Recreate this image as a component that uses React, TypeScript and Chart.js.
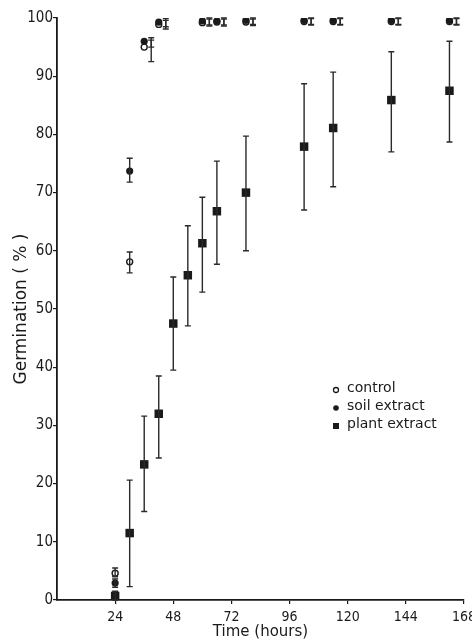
import React, { useEffect, useRef } from "react";
import { Chart, registerables } from "chart.js";

Chart.register(...registerables);

// Plant extract
const plantHours = [24, 30, 36, 42, 48, 54, 60, 66, 78, 102, 114, 138, 162];
const plantMean = [0.7, 11.5, 23.3, 32, 47.5, 55.8, 61.3, 66.8, 70, 77.9, 81.1, 85.9, 87.5];
const plantLow = [0, 2.3, 15.2, 24.4, 39.5, 47.1, 52.9, 57.7, 60, 67, 71, 77, 78.7];
const plantHigh = [1.5, 20.6, 31.6, 38.5, 55.5, 64.3, 69.2, 75.4, 79.7, 88.7, 90.7, 94.2, 96];

// Soil extract
const soilHours = [24, 30, 36, 42, 60, 66, 78, 102, 114, 138, 162];
const soilMean = [2.9, 73.7, 96, 99.3, 99.5, 99.5, 99.6, 99.6, 99.6, 99.6, 99.6];
const soilLow = [2.2, 71.8, 95, 98.5, 98.8, 98.8, 98.9, 98.9, 98.9, 98.9, 98.9];
const soilHigh = [3.6, 75.9, 96.6, 99.9, 100, 100, 100, 100, 100, 100, 100];

// Control
const controlHours = [24, 30, 36, 42, 60, 66, 78, 102, 114, 138, 162];
const controlMean = [4.6, 58.1, 95, 98.9, 99.2, 99.3, 99.3, 99.4, 99.4, 99.4, 99.4];
const controlLow = [4, 56.2, 92.5, 98.1, 98.6, 98.6, 98.7, 98.8, 98.8, 98.8, 98.8];
const controlHigh = [5.5, 59.8, 96.2, 99.6, 99.8, 99.8, 99.8, 99.9, 99.9, 99.9, 99.9];

const xTicks = [24, 48, 72, 96, 120, 144, 168];
const yTicks = [0, 10, 20, 30, 40, 50, 60, 70, 80, 90, 100];

const legendLabels = ["control", "soil extract", "plant extract"];

const FONT = "'DejaVu Sans', 'Noto Sans', sans-serif";
const NARROW = "'Liberation Sans Narrow', 'DejaVu Sans Condensed', 'Arial Narrow', 'DejaVu Sans', sans-serif";
const INK = "#1a1a1a";

const errorBarPlugin = {
  id: "errorBars",
  afterDatasetsDraw(chart: any) {
    const { ctx, scales } = chart;
    const xs = scales.x;
    const ys = scales.y;
    const sets = [
      { h: plantHours, lo: plantLow, hi: plantHigh, m: plantMean, shiftAbove: 999 },
      { h: soilHours, lo: soilLow, hi: soilHigh, m: soilMean, shiftAbove: 90 },
      { h: controlHours, lo: controlLow, hi: controlHigh, m: controlMean, shiftAbove: 90 },
    ];
    ctx.save();
    ctx.strokeStyle = "#2a2a2a";
    ctx.lineWidth = 1.4;
    for (const s of sets) {
      for (let i = 0; i < s.h.length; i++) {
        let px = xs.getPixelForValue(s.h[i]);
        if (s.m[i] > s.shiftAbove) px += 7;
        const y1 = ys.getPixelForValue(s.lo[i]);
        const y2 = ys.getPixelForValue(s.hi[i]);
        ctx.beginPath();
        ctx.moveTo(px, y1);
        ctx.lineTo(px, y2);
        ctx.moveTo(px - 3, y1);
        ctx.lineTo(px + 3, y1);
        ctx.moveTo(px - 3, y2);
        ctx.lineTo(px + 3, y2);
        ctx.stroke();
      }
    }
    ctx.restore();
  },
  afterDraw(chart: any) {
    const { ctx, chartArea } = chart;
    const x0 = chartArea.left + 278;
    const y0 = chartArea.top + 370;
    const gap = 18;
    ctx.save();
    ctx.font = `14px ${FONT}`;
    ctx.fillStyle = INK;
    ctx.textBaseline = "middle";
    legendLabels.forEach((lab, i) => {
      const y = y0 + i * gap;
      ctx.fillText(lab, x0 + 12, y);
      ctx.beginPath();
      if (i === 0) {
        ctx.strokeStyle = INK;
        ctx.lineWidth = 1.3;
        ctx.arc(x0 + 1, y + 2, 2.5, 0, Math.PI * 2);
        ctx.stroke();
      } else if (i === 1) {
        ctx.arc(x0 + 1, y + 2, 2.8, 0, Math.PI * 2);
        ctx.fill();
      } else {
        ctx.fillRect(x0 - 2, y - 1, 6, 6);
      }
    });
    ctx.restore();
  },
};

export default function App() {
  const ref = useRef<HTMLCanvasElement | null>(null);
  useEffect(() => {
    if (!ref.current) return;
    const chart = new Chart(ref.current, {
      type: "scatter",
      data: {
        datasets: [
          {
            label: "plant extract",
            data: plantHours.map((h, i) => ({ x: h, y: plantMean[i] })),
            pointStyle: "rect",
            pointRadius: 6,
            backgroundColor: INK,
            borderColor: INK,
            borderWidth: 0,
          },
          {
            label: "soil extract",
            data: soilHours.map((h, i) => ({ x: h, y: soilMean[i] })),
            pointStyle: "circle",
            pointRadius: 3.6,
            backgroundColor: INK,
            borderColor: INK,
            borderWidth: 0,
          },
          {
            label: "control",
            data: controlHours.map((h, i) => ({ x: h, y: controlMean[i] })),
            pointStyle: "circle",
            pointRadius: 3,
            backgroundColor: "#ffffff",
            borderColor: INK,
            borderWidth: 1.4,
          },
        ],
      },
      options: {
        animation: false,
        responsive: false,
        maintainAspectRatio: false,
        layout: { padding: { top: 18, right: 8, left: 0, bottom: 0 } },
        plugins: {
          legend: { display: false },
          tooltip: { enabled: false },
        },
        scales: {
          x: {
            type: "linear",
            min: 0,
            max: 168,
            afterBuildTicks: (s: any) => {
              s.ticks = xTicks.map((v) => ({ value: v }));
            },
            afterFit: (s: any) => {
              s.height = 41;
              s.paddingLeft = 0;
              s.paddingRight = 0;
            },
            grid: {
              display: true,
              drawOnChartArea: false,
              drawTicks: true,
              tickLength: 4,
              color: INK,
              lineWidth: 1.2,
            },
            border: { display: true, color: INK, width: 1.8 },
            ticks: {
              color: INK,
              font: { family: NARROW, size: 14 },
              padding: 5,
              maxRotation: 0,
            },
            title: {
              display: true,
              text: "Time (hours)",
              color: INK,
              font: { family: FONT, size: 15 },
              padding: { top: 0, bottom: 0 },
            },
          },
          y: {
            type: "linear",
            min: 0,
            max: 100,
            afterBuildTicks: (s: any) => {
              s.ticks = yTicks.map((v) => ({ value: v }));
            },
            afterFit: (s: any) => {
              s.width = 57;
              s.paddingTop = 0;
              s.paddingBottom = 0;
            },
            grid: {
              display: true,
              drawOnChartArea: false,
              drawTicks: true,
              tickLength: 4,
              color: INK,
              lineWidth: 1.2,
            },
            border: { display: true, color: INK, width: 1.8 },
            ticks: {
              color: INK,
              font: { family: NARROW, size: 15 },
              padding: 0,
            },
            title: {
              display: true,
              text: "Germination ( % )",
              color: INK,
              font: { family: FONT, size: 17 },
              padding: { top: 11, bottom: 0 },
            },
          },
        },
      },
      plugins: [errorBarPlugin],
    });
    return () => chart.destroy();
  }, []);

  return (
    <div style={{ position: "fixed", left: 0, top: 0, width: 472, height: 641, background: "#ffffff" }}>
      <canvas ref={ref} width={472} height={641} style={{ display: "block", width: 472, height: 641 }} />
    </div>
  );
}
